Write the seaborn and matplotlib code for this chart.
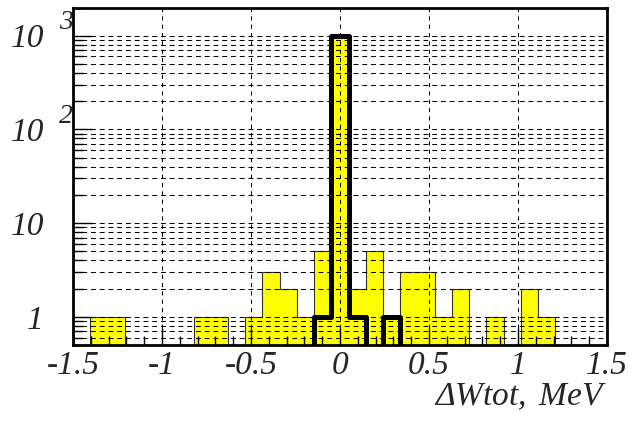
import numpy as np
import pandas as pd
import matplotlib
matplotlib.use("Agg")
import matplotlib.pyplot as plt
import matplotlib.ticker as mticker
import matplotlib.transforms as mtransforms
import seaborn as sns

# ---- data ----
x_min, x_max = -1.5, 1.5
n_bins = 31
yellow_counts = [0, 1, 1, 0, 0, 0, 0, 1, 1, 0, 1, 3, 2, 1, 5, 1000,
                 2, 5, 1, 3, 3, 1, 2, 0, 1, 0, 2, 1, 0, 0, 0]
black_counts = [0, 0, 0, 0, 0, 0, 0, 0, 0, 0, 0, 0, 0, 0, 1, 1000,
                1, 0, 1, 0, 0, 0, 0, 0, 0, 0, 0, 0, 0, 0, 0]
x_ticks = [-1.5, -1, -0.5, 0, 0.5, 1, 1.5]
x_tick_labels = ["-1.5", "-1", "-0.5", "0", "0.5", "1", "1.5"]
y_ticks = [1, 10, 100, 1000]
y_tick_base = ["1", "10", "10", "10"]
y_tick_exp = ["", "", "2", "3"]
x_label = r"$\Delta\mathit{Wtot,\ MeV}$"

edges = np.linspace(x_min, x_max, n_bins + 1)
centers = 0.5 * (edges[:-1] + edges[1:])
df = pd.DataFrame({"x": centers, "yellow": yellow_counts, "black": black_counts})

sns.set_style("ticks")
plt.rcParams["font.family"] = ["Liberation Serif", "DejaVu Serif"]
plt.rcParams["font.style"] = "italic"
plt.rcParams["mathtext.fontset"] = "custom"
plt.rcParams["mathtext.rm"] = "Liberation Serif"
plt.rcParams["mathtext.it"] = "Liberation Serif:italic"
plt.rcParams["lines.scale_dashes"] = False

fig = plt.figure(figsize=(6.33, 4.21), dpi=100)
ax = fig.add_axes([73 / 633, 1 - 345 / 421, (607 - 73) / 633, (345 - 7.5) / 421])

sns.histplot(data=df, x="x", weights="yellow", bins=n_bins,
             binrange=(x_min, x_max), element="step",
             fill=True, color="#ffff00", alpha=1.0, edgecolor="#333333",
             linewidth=0.8, ax=ax, zorder=1)
sns.histplot(data=df, x="x", weights="black", bins=n_bins,
             binrange=(x_min, x_max), element="step",
             fill=False, color="black", linewidth=3.6, ax=ax, zorder=3)

ax.set_yscale("log")
ax.set_xlim(x_min, x_max)
ax.set_ylim(0.5, 2000)
ax.set_ylabel("")

ax.set_xticks(x_ticks)
ax.set_xticklabels(x_tick_labels)
ax.xaxis.set_minor_locator(mticker.MultipleLocator(0.1))
ax.yaxis.set_major_locator(mticker.FixedLocator(y_ticks))
ax.yaxis.set_major_formatter(mticker.FixedFormatter(y_tick_base))
ax.yaxis.set_minor_locator(mticker.LogLocator(base=10, subs=np.arange(2, 10)))
ax.yaxis.set_minor_formatter(mticker.NullFormatter())

ax.tick_params(axis="both", which="both", direction="in", top=False,
               right=False, color="black", width=1.0)
ax.tick_params(axis="y", which="major", length=13.5, pad=21, labelsize=24)
ax.tick_params(axis="y", which="minor", length=7)
ax.tick_params(axis="x", which="major", length=12, pad=4, labelsize=24)
ax.tick_params(axis="x", which="minor", length=6.5)

ax.set_axisbelow(False)
ax.grid(True, axis="y", which="both", color="black", linewidth=0.75,
        linestyle=(0, (3.5, 2.8)))
ax.grid(True, axis="x", which="major", color="black", linewidth=0.75,
        linestyle=(0, (3, 3)))
ax.grid(False, axis="x", which="minor")

for s in ax.spines.values():
    s.set_visible(True)
    s.set_color("black")
    s.set_linewidth(2.0)
    s.set_zorder(4)

# superscripts of the decade labels
sup_tr = mtransforms.offset_copy(ax.get_yaxis_transform(), fig=fig, x=0, y=9.5,
                                 units="points")
for yv, e in zip(y_ticks, y_tick_exp):
    if e:
        ax.text(-0.026, yv, e, transform=sup_tr, ha="left", va="center",
                fontsize=20, style="italic", clip_on=False)

ax.set_xlabel(x_label, fontsize=24, ha="right")
ax.xaxis.set_label_coords(1.0, -0.11)
ax.xaxis.label.set_verticalalignment("top")

fig.savefig("out.png", dpi=100, facecolor="white")
